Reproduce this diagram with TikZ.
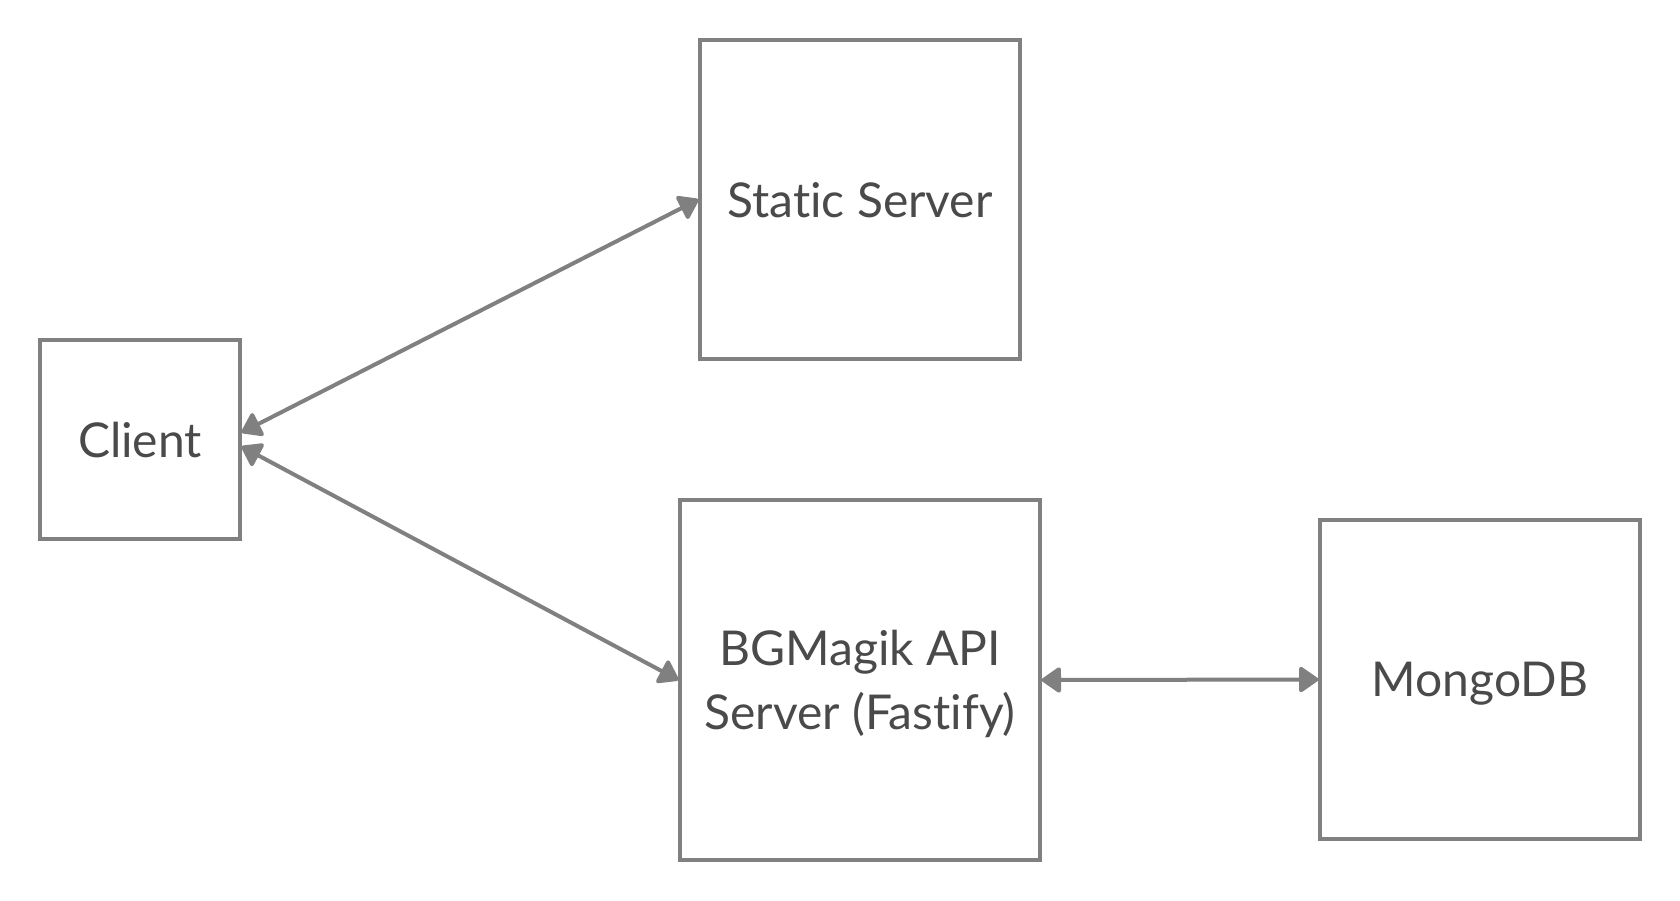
\documentclass[tikz,border=0pt]{standalone}
\usepackage{fontspec}
\setmainfont{Lato}[Ligatures={NoCommon}]
\usetikzlibrary{arrows.meta}
\definecolor{linegray}{HTML}{808080}
\definecolor{textgray}{HTML}{4A4A4A}

\begin{document}
\begin{tikzpicture}[x=1pt,y=-1pt,
   box/.style={draw=linegray,line width=1.6pt,text=textgray,align=center,
      inner sep=0pt,text depth=0pt,font=\fontsize{24}{32}\selectfont},
   link/.style={linegray,line width=2pt,{Triangle[length=10.5pt,width=14pt,round]}-{Triangle[length=10.5pt,width=14pt,round]}}]
   \useasboundingbox (0,0) rectangle (840,450);
   \node[box,minimum width=100pt,minimum height=99.5pt] (client) at (70,219.75) {Client};
   \node[box,minimum width=160pt,minimum height=159.5pt] (static) at (430,99.75) {Static Server};
   \node[box,minimum width=180pt,minimum height=180pt] (api) at (430,340) {BGMagik API\\Server (Fastify)};
   \node[box,minimum width=160pt,minimum height=159.5pt] (mongo) at (740,339.75) {MongoDB};
   \draw[link] ([yshift=3.5pt]client.east) -- (static.west);
   \draw[link] ([yshift=-3.5pt]client.east) -- (api.west);
   \draw[link] (api.east) -- (mongo.west);
\end{tikzpicture}
\end{document}
